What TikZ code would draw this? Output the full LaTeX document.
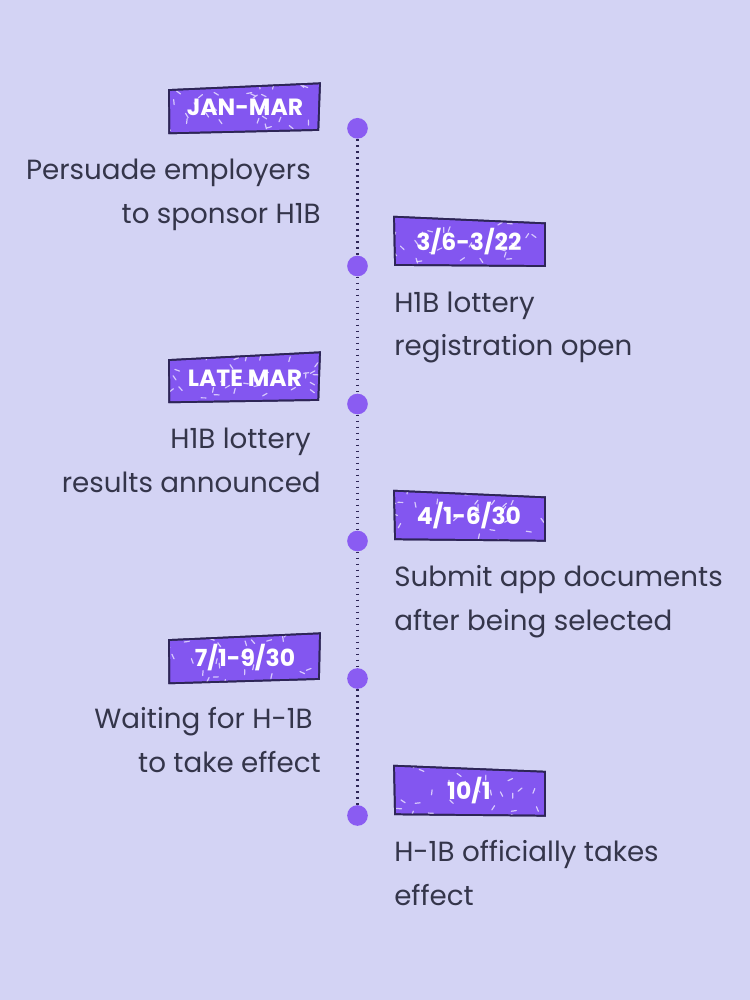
\documentclass[tikz,border=0pt]{standalone}
\usepackage{fontspec}
\setmainfont{Poppins}
\definecolor{bg}{HTML}{D3D3F4}
\definecolor{tagfill}{HTML}{8356F0}
\definecolor{tagline}{HTML}{2D2556}
\definecolor{dotc}{HTML}{8A5CF2}
\definecolor{txt}{HTML}{34354A}
\definecolor{conf}{HTML}{E6DDFF}
\tikzset{
  tagshape/.style={fill=tagfill, draw=tagline, line width=1.3pt},
  tagtext/.style={text=white, font=\fontsize{17.6}{20}\selectfont\bfseries, inner sep=0pt},
  body/.style={text=txt, font=\fontsize{20.8}{33}\selectfont, inner sep=0pt},
  dotnode/.style={circle, fill=dotc, minimum size=15.5pt, inner sep=0pt},
  link/.style={draw=tagline, line width=1.6pt, dash pattern=on 1.4pt off 3.1pt},
  confetti/.style={draw=conf, line width=0.9pt, line cap=round, opacity=0.85}
}
\newcommand\confettibox[4]{%
  \foreach \i in {1,...,32}{%
    \pgfmathsetmacro\cx{#1+rnd*#3}%
    \pgfmathsetmacro\cy{#2+rnd*#4}%
    \pgfmathsetmacro\ca{rnd*180}%
    \draw[confetti] (\cx,\cy) -- ++(\ca:5);
  }}
\begin{document}
\begin{tikzpicture}[x=0.75pt,y=-0.75pt]
\fill[bg] (0,0) rectangle (750,1000);
\useasboundingbox (0,0) rectangle (750,1000);
\pgfmathsetseed{11}

% dots
\node[dotnode] (d1) at (357.5,128.3) {};
\node[dotnode] (d2) at (357.5,266) {};
\node[dotnode] (d3) at (357.5,404) {};
\node[dotnode] (d4) at (357.5,541) {};
\node[dotnode] (d5) at (357.5,678.5) {};
\node[dotnode] (d6) at (357.5,815.5) {};
\foreach \a/\b in {d1/d2,d2/d3,d3/d4,d4/d5,d5/d6}{
  \draw[link] (\a.south) -- (\b.north);
}

% tag 1 (left)
\path[tagshape] (169,90) -- (320,83.3) -- (318.3,130) -- (169.3,133.3) -- cycle;
\begin{scope}
\clip (169,90) -- (320,83.3) -- (318.3,130) -- (169.3,133.3) -- cycle;
\confettibox{166}{82}{156}{54}
\end{scope}
\path[draw=tagline, line width=1.3pt] (169,90) -- (320,83.3) -- (318.3,130) -- (169.3,133.3) -- cycle;
\node[tagtext] (g1) at (245,107.5) {JAN-MAR};

% tag 2 (right)
\path[tagshape] (394,216.7) -- (545,223.3) -- (545,266) -- (395,265) -- cycle;
\begin{scope}
\clip (394,216.7) -- (545,223.3) -- (545,266) -- (395,265) -- cycle;
\confettibox{391}{214}{157}{55}
\end{scope}
\path[draw=tagline, line width=1.3pt] (394,216.7) -- (545,223.3) -- (545,266) -- (395,265) -- cycle;
\node[tagtext] (g2) at (469,241.5) {3/6-3/22};

% tag 3 (left)
\path[tagshape] (169,360) -- (320,352.3) -- (318.3,400) -- (169.3,402.3) -- cycle;
\begin{scope}
\clip (169,360) -- (320,352.3) -- (318.3,400) -- (169.3,402.3) -- cycle;
\confettibox{166}{350}{156}{54}
\end{scope}
\path[draw=tagline, line width=1.3pt] (169,360) -- (320,352.3) -- (318.3,400) -- (169.3,402.3) -- cycle;
\node[tagtext] (g3) at (245,378) {LATE MAR};

% tag 4 (right)
\path[tagshape] (394,490.7) -- (545,497.3) -- (545,540.7) -- (395,539.3) -- cycle;
\begin{scope}
\clip (394,490.7) -- (545,497.3) -- (545,540.7) -- (395,539.3) -- cycle;
\confettibox{391}{488}{157}{55}
\end{scope}
\path[draw=tagline, line width=1.3pt] (394,490.7) -- (545,497.3) -- (545,540.7) -- (395,539.3) -- cycle;
\node[tagtext] (g4) at (469,516) {4/1-6/30};

% tag 5 (left)
\path[tagshape] (169,640) -- (320,633.3) -- (319,679) -- (169.3,683.3) -- cycle;
\begin{scope}
\clip (169,640) -- (320,633.3) -- (319,679) -- (169.3,683.3) -- cycle;
\confettibox{166}{630}{156}{56}
\end{scope}
\path[draw=tagline, line width=1.3pt] (169,640) -- (320,633.3) -- (319,679) -- (169.3,683.3) -- cycle;
\node[tagtext] (g5) at (245,658) {7/1-9/30};

% tag 6 (right)
\path[tagshape] (394,765.7) -- (545,771.7) -- (545,815.7) -- (395,814.3) -- cycle;
\begin{scope}
\clip (394,765.7) -- (545,771.7) -- (545,815.7) -- (395,814.3) -- cycle;
\confettibox{391}{763}{157}{55}
\end{scope}
\path[draw=tagline, line width=1.3pt] (394,765.7) -- (545,771.7) -- (545,815.7) -- (395,814.3) -- cycle;
\node[tagtext] (g6) at (469,791) {10/1};

% body texts
\node[body, anchor=base east] (t1a) at (311,179.5) {Persuade employers};
\node[body, anchor=base east] (t1b) at (321,223.5) {to sponsor H1B};
\node[body, anchor=base west] (t2a) at (394,312) {H1B lottery};
\node[body, anchor=base west] (t2b) at (394,355.5) {registration open};
\node[body, anchor=base east] (t3a) at (311,448) {H1B lottery};
\node[body, anchor=base east] (t3b) at (321,492) {results announced};
\node[body, anchor=base west] (t4a) at (394,586.5) {Submit app documents};
\node[body, anchor=base west] (t4b) at (394,630) {after being selected};
\node[body, anchor=base east] (t5a) at (313,728.5) {Waiting for H-1B};
\node[body, anchor=base east] (t5b) at (321,772.5) {to take effect};
\node[body, anchor=base west] (t6a) at (394,861.5) {H-1B officially takes};
\node[body, anchor=base west] (t6b) at (394,905) {effect};
\end{tikzpicture}
\end{document}
